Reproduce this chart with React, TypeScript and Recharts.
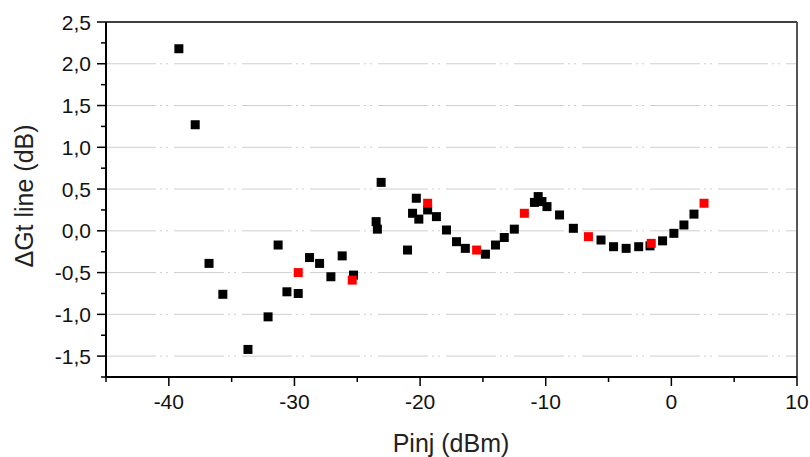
import React from 'react';
import { ScatterChart, Scatter, XAxis, YAxis, ReferenceLine, Label } from 'recharts';

// Black series (Pinj dBm, ΔGt dB)
const blackPinj = [
  -39.2, -37.9, -36.8, -35.7, -33.7, -32.1, -31.3, -30.6, -29.7, -28.8, -28.0, -27.1, -26.2, -25.3,
  -23.5, -23.4, -23.1, -21.0, -20.6, -20.3, -20.1, -19.4, -18.7, -17.9, -17.1, -16.4, -14.8, -14.0,
  -13.3, -12.5, -10.9, -10.6, -10.3, -9.9, -8.9, -7.8, -5.6, -4.6, -3.6, -2.6, -1.7, -0.7, 0.2, 1.0, 1.8,
];
const blackGain = [
  2.18, 1.27, -0.39, -0.76, -1.42, -1.03, -0.17, -0.73, -0.75, -0.32, -0.39, -0.55, -0.30, -0.53,
  0.11, 0.02, 0.58, -0.23, 0.21, 0.39, 0.14, 0.25, 0.17, 0.01, -0.13, -0.21, -0.28, -0.17,
  -0.08, 0.02, 0.34, 0.41, 0.35, 0.29, 0.19, 0.03, -0.11, -0.19, -0.21, -0.19, -0.18, -0.12, -0.03, 0.07, 0.20,
];
// Red series
const redPinj = [-29.7, -25.4, -19.4, -15.5, -11.7, -6.6, -1.6, 2.6];
const redGain = [-0.50, -0.59, 0.33, -0.23, 0.21, -0.07, -0.15, 0.33];

const xTicks = [-45, -40, -35, -30, -25, -20, -15, -10, -5, 0, 5, 10];
const xMajor = [-40, -30, -20, -10, 0, 10];
const yTicks = [-1.75, -1.5, -1.25, -1, -0.75, -0.5, -0.25, 0, 0.25, 0.5, 0.75, 1, 1.25, 1.5, 1.75, 2, 2.25, 2.5];
const yMajor = [-1.5, -1, -0.5, 0, 0.5, 1, 1.5, 2, 2.5];
const gridValues = [-1.5, -1, -0.5, 0, 0.5, 1, 1.5, 2];

const blackData = blackPinj.map((x, i) => ({ x, y: blackGain[i] }));
const redData = redPinj.map((x, i) => ({ x, y: redGain[i] }));

const FONT = '"Liberation Sans", Arial, sans-serif';

const XTick = (props: any) => {
  const { x, y, payload } = props;
  const major = xMajor.includes(payload.value);
  return (
    <g>
      <line x1={x} x2={x} y1={y} y2={y + (major ? 9 : 5)} stroke="#000" strokeWidth={1.5} />
      {major && (
        <text x={x} y={y + 32} textAnchor="middle" fontSize={21} fontFamily={FONT} fill="#111">
          {payload.value}
        </text>
      )}
    </g>
  );
};

const YTick = (props: any) => {
  const { x, y, payload } = props;
  const major = yMajor.includes(payload.value);
  return (
    <g>
      <line x1={x} x2={x - (major ? 9 : 5)} y1={y} y2={y} stroke="#000" strokeWidth={1.5} />
      {major && (
        <text x={x - 15} y={y + 7.5} textAnchor="end" fontSize={21} fontFamily={FONT} fill="#111">
          {Number(payload.value).toFixed(1).replace('.', ',')}
        </text>
      )}
    </g>
  );
};

const Square = (color: string) => (props: any) => {
  const { cx, cy } = props;
  return <rect x={cx - 4.5} y={cy - 4.5} width={9} height={9} fill={color} />;
};

export default function App() {
  return (
    <div style={{ position: 'absolute', left: 0, top: 0, width: 810, height: 457, background: '#fff' }}>
      <ScatterChart width={810} height={457} margin={{ top: 22, right: 13, bottom: 0, left: 0 }}>
        {gridValues.map((v) => (
          <ReferenceLine key={v} y={v} stroke="#cfcfcf" strokeWidth={1} strokeDasharray="50 4 2 4 2 6" />
        ))}
        <ReferenceLine y={2.5} stroke="#000" strokeWidth={1.5} />
        <ReferenceLine x={10} stroke="#555" strokeWidth={2} />
        <XAxis
          type="number"
          dataKey="x"
          domain={[-45, 10]}
          ticks={xTicks}
          interval={0}
          allowDataOverflow
          height={80}
          tickSize={0}
          tickMargin={0}
          tickLine={false}
          tick={<XTick />}
          axisLine={{ stroke: '#000', strokeWidth: 2 }}
        >
          <Label
            content={() => (
              <text x={451} y={452} textAnchor="middle" fontSize={25} fontFamily={FONT} fill="#222">
                Pinj (dBm)
              </text>
            )}
          />
        </XAxis>
        <YAxis
          type="number"
          dataKey="y"
          domain={[-1.75, 2.5]}
          ticks={yTicks}
          interval={0}
          allowDataOverflow
          width={106}
          tickSize={0}
          tickMargin={0}
          tickLine={false}
          tick={<YTick />}
          axisLine={{ stroke: '#000', strokeWidth: 2 }}
        >
          <Label
            content={() => (
              <text
                x={33}
                y={196}
                transform="rotate(-90 33 196)"
                textAnchor="middle"
                fontSize={25}
                fontFamily={FONT}
                fill="#222"
              >
                ΔGt line (dB)
              </text>
            )}
          />
        </YAxis>
        <Scatter data={blackData} fill="#000" shape={Square('#000')} isAnimationActive={false} />
        <Scatter data={redData} fill="#ff0000" shape={Square('#ff0000')} isAnimationActive={false} />
      </ScatterChart>
    </div>
  );
}
